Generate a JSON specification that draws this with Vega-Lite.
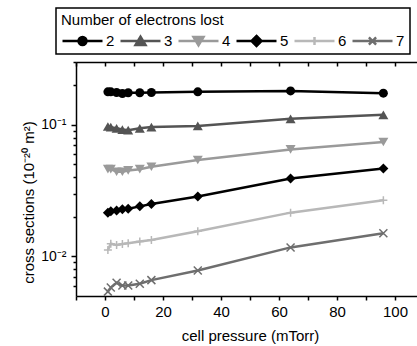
{
  "$schema": "https://vega.github.io/schema/vega-lite/v6.json",
  "width": 341,
  "height": 234,
  "autosize": {"type": "none"},
  "padding": {"left": 76, "top": 62, "right": 0, "bottom": 50},
  "background": "white",
  "data": {"values": [
    {"series": "2", "p": 1, "cs": 0.178}, {"series": "2", "p": 2, "cs": 0.178}, {"series": "2", "p": 4, "cs": 0.176}, {"series": "2", "p": 6, "cs": 0.173}, {"series": "2", "p": 8, "cs": 0.175}, {"series": "2", "p": 12, "cs": 0.175}, {"series": "2", "p": 16, "cs": 0.176}, {"series": "2", "p": 32, "cs": 0.178}, {"series": "2", "p": 64, "cs": 0.181}, {"series": "2", "p": 96, "cs": 0.174},
    {"series": "3", "p": 1, "cs": 0.097}, {"series": "3", "p": 2, "cs": 0.096}, {"series": "3", "p": 4, "cs": 0.094}, {"series": "3", "p": 6, "cs": 0.092}, {"series": "3", "p": 8, "cs": 0.091}, {"series": "3", "p": 12, "cs": 0.094}, {"series": "3", "p": 16, "cs": 0.096}, {"series": "3", "p": 32, "cs": 0.098}, {"series": "3", "p": 64, "cs": 0.111}, {"series": "3", "p": 96, "cs": 0.119},
    {"series": "4", "p": 1, "cs": 0.046}, {"series": "4", "p": 2, "cs": 0.046}, {"series": "4", "p": 4, "cs": 0.044}, {"series": "4", "p": 6, "cs": 0.044}, {"series": "4", "p": 8, "cs": 0.045}, {"series": "4", "p": 12, "cs": 0.046}, {"series": "4", "p": 16, "cs": 0.048}, {"series": "4", "p": 32, "cs": 0.054}, {"series": "4", "p": 64, "cs": 0.065}, {"series": "4", "p": 96, "cs": 0.074},
    {"series": "5", "p": 1, "cs": 0.0215}, {"series": "5", "p": 2, "cs": 0.022}, {"series": "5", "p": 4, "cs": 0.0223}, {"series": "5", "p": 6, "cs": 0.0228}, {"series": "5", "p": 8, "cs": 0.023}, {"series": "5", "p": 12, "cs": 0.024}, {"series": "5", "p": 16, "cs": 0.025}, {"series": "5", "p": 32, "cs": 0.0285}, {"series": "5", "p": 64, "cs": 0.039}, {"series": "5", "p": 96, "cs": 0.0465},
    {"series": "6", "p": 1, "cs": 0.0112}, {"series": "6", "p": 2, "cs": 0.0125}, {"series": "6", "p": 4, "cs": 0.0122}, {"series": "6", "p": 6, "cs": 0.0124}, {"series": "6", "p": 8, "cs": 0.0126}, {"series": "6", "p": 12, "cs": 0.013}, {"series": "6", "p": 16, "cs": 0.0133}, {"series": "6", "p": 32, "cs": 0.0155}, {"series": "6", "p": 64, "cs": 0.0215}, {"series": "6", "p": 96, "cs": 0.0267},
    {"series": "7", "p": 1, "cs": 0.0054}, {"series": "7", "p": 2, "cs": 0.0058}, {"series": "7", "p": 4, "cs": 0.0063}, {"series": "7", "p": 6, "cs": 0.006}, {"series": "7", "p": 8, "cs": 0.006}, {"series": "7", "p": 12, "cs": 0.0062}, {"series": "7", "p": 16, "cs": 0.0066}, {"series": "7", "p": 32, "cs": 0.0078}, {"series": "7", "p": 64, "cs": 0.0117}, {"series": "7", "p": 96, "cs": 0.015}
  ]},
  "config": {
    "view": {"stroke": null},
    "font": "Liberation Sans",
    "style": {"guide-title": {"fontWeight": "normal"}},
    "axis": {"labelFont": "Liberation Sans", "titleFont": "Liberation Sans", "labelFontSize": 15, "titleFontSize": 15, "titleFontWeight": "normal", "labelColor": "black", "titleColor": "black", "domainColor": "black", "tickColor": "black", "domainWidth": 1.5, "tickWidth": 1.5, "grid": false},
    "legend": {"titleFont": "Liberation Sans", "labelFont": "Liberation Sans", "titleFontSize": 15, "labelFontSize": 15, "titleFontWeight": "normal", "titleColor": "black", "labelColor": "black", "strokeWidth": 1.5}
  },
  "resolve": {"axis": {"x": "independent"}},
  "layer": [
    {
      "transform": [{"filter": "false"}],
      "mark": {"type": "point", "filled": true, "size": 1600, "strokeWidth": 2.5, "opacity": 1},
      "encoding": {
        "shape": {"field": "series", "type": "nominal",
          "scale": {"domain": ["2", "3", "4", "5", "6", "7"], "range": ["M-1,0H1M0.2,0A0.2,0.2,0,1,1,-0.2,0A0.2,0.2,0,1,1,0.2,0Z", "M-1,0H1M0,-0.22L0.25,0.2L-0.25,0.2Z", "M-1,0H1M0,0.22L0.25,-0.2L-0.25,-0.2Z", "M-1,0H1M0,-0.25L0.25,0L0,0.25L-0.25,0Z", "M-1,0H1M0,-0.2V0.2", "M-1,0H1M-0.18,-0.18L0.18,0.18M-0.18,0.18L0.18,-0.18"]},
          "legend": {"title": "Number of electrons lost", "orient": "none", "legendX": -20, "legendY": -54, "direction": "horizontal", "columns": 6, "symbolSize": 1600, "symbolStrokeWidth": 2.5, "symbolOpacity": 1, "clipHeight": 16, "strokeColor": "black", "padding": 5, "titlePadding": 5, "titleFontWeight": 400, "labelOffset": 2, "columnPadding": 4, "encode": {"title": {"update": {"fontWeight": {"value": "normal"}}}}}},
        "fill": {"field": "series", "type": "nominal",
          "scale": {"domain": ["2", "3", "4", "5", "6", "7"], "range": ["#000000", "#545454", "#9a9a9a", "#000000", "#b8b8b8", "#6e6e6e"]},
          "legend": {"title": "Number of electrons lost", "orient": "none", "legendX": -20, "legendY": -54, "direction": "horizontal", "columns": 6, "symbolSize": 1600, "symbolStrokeWidth": 2.5, "symbolOpacity": 1, "clipHeight": 16, "strokeColor": "black", "padding": 5, "titlePadding": 5, "titleFontWeight": 400, "labelOffset": 2, "columnPadding": 4, "encode": {"title": {"update": {"fontWeight": {"value": "normal"}}}}}},
        "stroke": {"field": "series", "type": "nominal",
          "scale": {"domain": ["2", "3", "4", "5", "6", "7"], "range": ["#000000", "#545454", "#9a9a9a", "#000000", "#b8b8b8", "#6e6e6e"]},
          "legend": {"title": "Number of electrons lost", "orient": "none", "legendX": -20, "legendY": -54, "direction": "horizontal", "columns": 6, "symbolSize": 1600, "symbolStrokeWidth": 2.5, "symbolOpacity": 1, "clipHeight": 16, "strokeColor": "black", "padding": 5, "titlePadding": 5, "titleFontWeight": 400, "labelOffset": 2, "columnPadding": 4, "encode": {"title": {"update": {"fontWeight": {"value": "normal"}}}}}}
      }
    },
    {
      "mark": {"type": "line", "strokeWidth": 2.5},
      "encoding": {
        "x": {"field": "p", "type": "quantitative", "scale": {"domain": [-10, 107.6], "nice": false, "zero": false},
          "axis": {"orient": "bottom", "values": [-10, 0, 10, 20, 30, 40, 50, 60, 70, 80, 90, 100], "labelExpr": "datum.value >= 0 && datum.value % 20 == 0 ? datum.label : ''", "tickSize": 4, "labelPadding": 4, "labelFlush": false, "labelOverlap": false, "title": "cell pressure (mTorr)", "titleX": 174, "titleY": 44, "titleBaseline": "alphabetic"}},
        "y": {"field": "cs", "type": "quantitative", "scale": {"type": "log", "domain": [0.005, 0.3], "nice": false},
          "axis": {"orient": "left", "values": [0.006, 0.007, 0.008, 0.009, 0.01, 0.02, 0.03, 0.04, 0.05, 0.06, 0.07, 0.08, 0.09, 0.1, 0.2, 0.3], "labelExpr": "datum.value == 0.1 ? '10⁻¹' : datum.value == 0.01 ? '10⁻²' : ''", "tickSize": {"condition": {"test": "datum.value == 0.1 || datum.value == 0.01", "value": 5}, "value": 3}, "labelPadding": 5, "labelFontSize": 14, "labelOverlap": false, "labelFlush": false, "title": "cross sections (10⁻²⁰ m²)", "titleX": -43, "titleY": 140, "titleBaseline": "alphabetic", "titleAngle": -90, "titleAlign": "center"}},
        "stroke": {"field": "series", "type": "nominal"}
      }
    },
    {
      "transform": [{"filter": "datum.series == '2'"}],
      "mark": {"type": "point", "shape": "circle", "filled": true, "size": 81, "opacity": 1},
      "encoding": {
        "x": {"field": "p", "type": "quantitative", "axis": {"orient": "top", "labels": false, "title": null, "values": [-10, 0, 10, 20, 30, 40, 50, 60, 70, 80, 90, 100], "tickSize": -4}},
        "y": {"field": "cs", "type": "quantitative"},
        "fill": {"field": "series", "type": "nominal"}
      }
    },
    {
      "transform": [{"filter": "datum.series == '3'"}],
      "mark": {"type": "point", "shape": "triangle-up", "filled": true, "size": 100, "opacity": 1},
      "encoding": {
        "x": {"field": "p", "type": "quantitative", "axis": null},
        "y": {"field": "cs", "type": "quantitative"},
        "fill": {"field": "series", "type": "nominal"}
      }
    },
    {
      "transform": [{"filter": "datum.series == '4'"}],
      "mark": {"type": "point", "shape": "triangle-down", "filled": true, "size": 100, "opacity": 1},
      "encoding": {
        "x": {"field": "p", "type": "quantitative", "axis": null},
        "y": {"field": "cs", "type": "quantitative"},
        "fill": {"field": "series", "type": "nominal"}
      }
    },
    {
      "transform": [{"filter": "datum.series == '5'"}],
      "mark": {"type": "point", "shape": "diamond", "filled": true, "size": 100, "opacity": 1},
      "encoding": {
        "x": {"field": "p", "type": "quantitative", "axis": null},
        "y": {"field": "cs", "type": "quantitative"},
        "fill": {"field": "series", "type": "nominal"}
      }
    },
    {
      "transform": [{"filter": "datum.series == '6'"}],
      "mark": {"type": "point", "shape": "M-1,0H1M0,-1V1", "filled": false, "size": 64, "strokeWidth": 1.5, "opacity": 1},
      "encoding": {
        "x": {"field": "p", "type": "quantitative", "axis": null},
        "y": {"field": "cs", "type": "quantitative"},
        "stroke": {"field": "series", "type": "nominal"}
      }
    },
    {
      "transform": [{"filter": "datum.series == '7'"}],
      "mark": {"type": "point", "shape": "M-1,-1L1,1M-1,1L1,-1", "filled": false, "size": 64, "strokeWidth": 1.5, "opacity": 1},
      "encoding": {
        "x": {"field": "p", "type": "quantitative", "axis": null},
        "y": {"field": "cs", "type": "quantitative"},
        "stroke": {"field": "series", "type": "nominal"}
      }
    }
  ]
}
